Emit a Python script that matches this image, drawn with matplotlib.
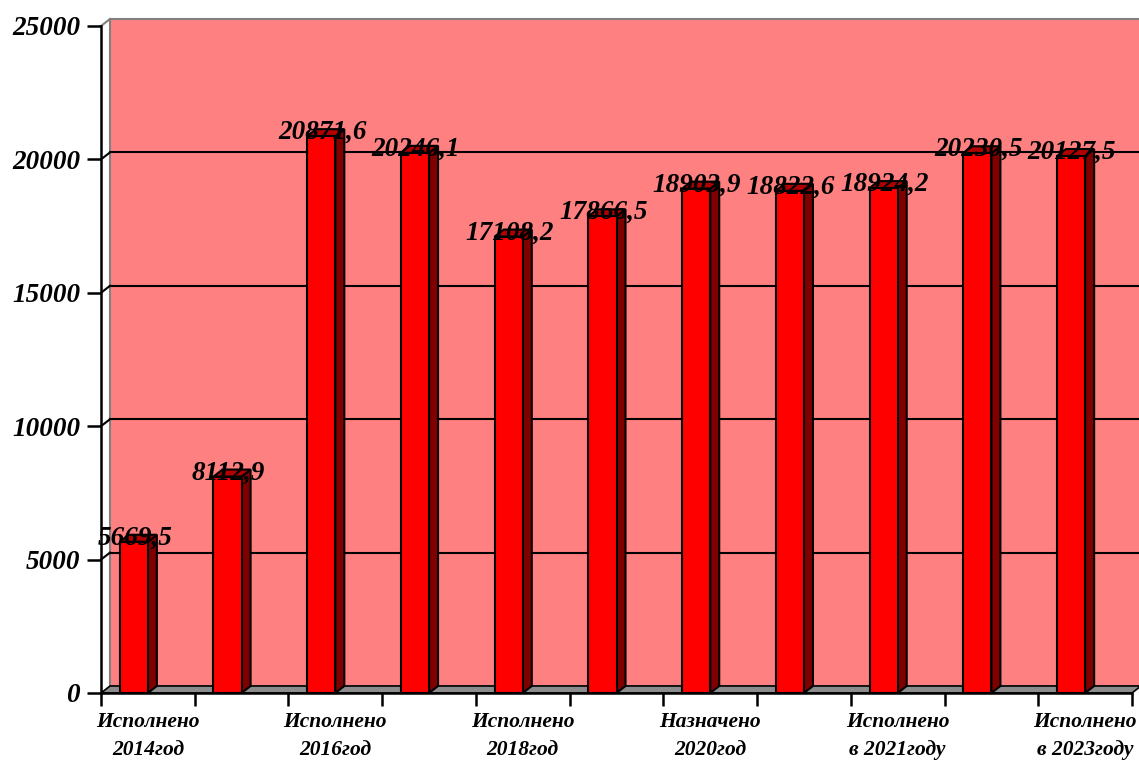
import matplotlib
matplotlib.use("Agg")
import matplotlib.pyplot as plt
from matplotlib.patches import Polygon, Rectangle

categories = ["Исполнено\n2014год", "", "Исполнено\n2016год", "", "Исполнено\n2018год", "",
              "Назначено\n2020год", "", "Исполнено\nв 2021году", "", "Исполнено\nв 2023году"]
values = [5669.5, 8112.9, 20871.6, 20246.1, 17108.2, 17866.5, 18903.9, 18822.6, 18924.2, 20230.5, 20127.5]
yticks = [0, 5000, 10000, 15000, 20000, 25000]

W, H = 1139, 762
fig = plt.figure(figsize=(W / 100, H / 100), dpi=100)
ax_l, ax_b, ax_r, ax_t = 101, 693, 1132, 26  # pixel bounds
ax = fig.add_axes([ax_l / W, (H - ax_b) / H, (ax_r - ax_l) / W, (ax_b - ax_t) / H])
n = len(values)
ymax = 25000
ax.set_xlim(0, n)
ax.set_ylim(0, ymax)
ax.set_facecolor("none")

# depth offset in data units
DXP, DYP = 9, 7
DX = DXP * n / (ax_r - ax_l)
DY = DYP * ymax / (ax_b - ax_t)

font = dict(family="Liberation Serif", weight="bold", style="italic")

# back wall
wall = Polygon([(DX, DY), (n + DX, DY), (n + DX, ymax + DY), (DX, ymax + DY)],
               closed=True, facecolor="#FF8080", edgecolor="#808080", lw=1.5,
               clip_on=False, zorder=0)
ax.add_patch(wall)
# left side wall border
ax.plot([0, DX], [ymax, ymax + DY], color="#808080", lw=1.5, clip_on=False, zorder=0.5)
# floor
floor = Polygon([(0, 0), (n, 0), (n + DX, DY), (DX, DY)], closed=True,
                facecolor="#8C8C8C", edgecolor="black", lw=1.2, clip_on=False, zorder=1)
ax.add_patch(floor)

# gridlines on back wall
for v in yticks[1:-1]:
    ax.plot([DX, n + DX], [v + DY, v + DY], color="black", lw=1.5, clip_on=False, zorder=1)
    ax.plot([0, DX], [v, v + DY], color="black", lw=1.5, clip_on=False, zorder=1)

# bars
x0, bw = 0.2, 0.3
for i, v in enumerate(values):
    xl = i + x0
    xr = xl + bw
    side = Polygon([(xr, 0), (xr + DX, DY), (xr + DX, v + DY), (xr, v)], closed=True,
                   facecolor="#800000", edgecolor="black", lw=1.5, clip_on=False, zorder=3)
    top = Polygon([(xl, v), (xr, v), (xr + DX, v + DY), (xl + DX, v + DY)], closed=True,
                  facecolor="#B00000", edgecolor="black", lw=1.5, clip_on=False, zorder=3)
    front = Rectangle((xl, 0), bw, v, facecolor="#FF0000", edgecolor="black", lw=1.5,
                      clip_on=False, zorder=4)
    ax.add_patch(side)
    ax.add_patch(top)
    ax.add_patch(front)
    lbl = f"{v:.1f}".replace(".", ",")
    ax.text(xl + bw / 2 + 0.01, v - 0.4 * DY, lbl, ha="center", va="baseline",
            fontsize=19.5, zorder=6, clip_on=False, **font)

# axes styling
for s in ["top", "right"]:
    ax.spines[s].set_visible(False)
for s in ["left", "bottom"]:
    ax.spines[s].set_color("black")
    ax.spines[s].set_linewidth(1.8)
    ax.spines[s].set_zorder(5)

ax.set_yticks(yticks)
ax.set_yticklabels([str(t) for t in yticks], fontsize=19.5, **font)
ax.tick_params(axis="y", direction="out", length=10, width=1.8, pad=5)

ax.set_xticks(range(n + 1))
ax.set_xticklabels([])
ax.tick_params(axis="x", which="major", direction="out", length=9, width=1.8)
ax.set_xticks([i + 0.5 for i in range(n)], minor=True)
ax.set_xticklabels(categories, minor=True, fontsize=15.5, linespacing=1.5, **font)
ax.tick_params(axis="x", which="minor", length=0, pad=14)

fig.savefig("out.png", dpi=100)
